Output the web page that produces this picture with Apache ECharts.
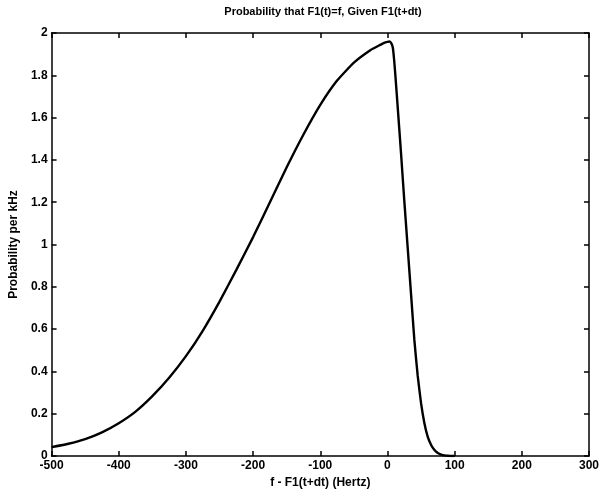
<!DOCTYPE html>
<html>
<head>
<meta charset="utf-8">
<script src="https://cdn.jsdelivr.net/npm/echarts@6/dist/echarts.min.js"></script>
<style>
html,body{margin:0;padding:0;background:#fff;}
#c{width:602px;height:497px;}
</style>
</head>
<body>
<div id="c"></div>
<script>
var titleText = 'Probability that F1(t)=f, Given F1(t+dt)';
var xName = 'f - F1(t+dt) (Hertz)';
var yName = 'Probability per kHz';
var freqHz = [-500,-475,-450,-425,-400,-375,-350,-325,-300,-275,-250,-225,-200,-175,-150,-125,-100,-75,-50,-25,-10,-5,0,3,6,8,10,12,15,20,25,30,35,40,45,50,55,60,65,70,75,80,85,90,95,100];
var prob   = [0.042,0.058,0.08,0.112,0.155,0.21,0.283,0.37,0.472,0.592,0.73,0.88,1.035,1.20,1.365,1.52,1.66,1.775,1.86,1.92,1.945,1.953,1.958,1.96,1.95,1.93,1.87,1.79,1.66,1.44,1.21,0.99,0.77,0.55,0.38,0.25,0.155,0.09,0.052,0.028,0.014,0.007,0.003,0.001,0,0];
var xTicks = {min:-500, max:300, interval:100};
var yTicks = {min:0, max:2, interval:0.2};

var font = 'Liberation Sans, Arial, Helvetica, sans-serif';
var chart = echarts.init(document.getElementById('c'), null, {renderer:'canvas'});
var data = freqHz.map(function(x,i){return [x, prob[i]];});
var axisLineStyle = {show:true, onZero:false, lineStyle:{color:'#000', width:1.5}};
var tickStyle = {show:true, inside:true, length:5, lineStyle:{color:'#000', width:1.5}};
chart.setOption({
  animation:false,
  backgroundColor:'#fff',
  title:{text:titleText, left:318, top:1, textAlign:'center',
    textStyle:{fontFamily:font, fontSize:11, fontWeight:'bold', color:'#000'}},
  grid:{left:49, right:13, top:33, bottom:41, containLabel:false},
  xAxis:[{
    type:'value', min:xTicks.min, max:xTicks.max, interval:xTicks.interval,
    position:'bottom',
    name:xName, nameLocation:'middle', nameGap:19,
    nameTextStyle:{fontFamily:font, fontSize:12, fontWeight:'bold', color:'#000'},
    axisLine:axisLineStyle, axisTick:tickStyle,
    axisLabel:{fontFamily:font, fontSize:12, fontWeight:'bold', color:'#000', margin:4},
    splitLine:{show:false}
  },{
    type:'value', min:xTicks.min, max:xTicks.max, interval:xTicks.interval,
    position:'top', axisLine:axisLineStyle, axisTick:tickStyle,
    axisLabel:{show:false}, splitLine:{show:false}
  }],
  yAxis:[{
    type:'value', min:yTicks.min, max:yTicks.max, interval:yTicks.interval,
    position:'left',
    name:yName, nameLocation:'middle', nameGap:28, nameRotate:90,
    nameTextStyle:{fontFamily:font, fontSize:12, fontWeight:'bold', color:'#000'},
    axisLine:axisLineStyle, axisTick:tickStyle,
    axisLabel:{fontFamily:font, fontSize:12, fontWeight:'bold', color:'#000', margin:4},
    splitLine:{show:false}
  },{
    type:'value', min:yTicks.min, max:yTicks.max, interval:yTicks.interval,
    position:'right', axisLine:axisLineStyle, axisTick:tickStyle,
    axisLabel:{show:false}, splitLine:{show:false}
  }],
  series:[{
    type:'line', data:data, xAxisIndex:0, yAxisIndex:0,
    showSymbol:false, symbol:'none', smooth:0.15,
    lineStyle:{color:'#000', width:2.4}
  }]
});
</script>
</body>
</html>
